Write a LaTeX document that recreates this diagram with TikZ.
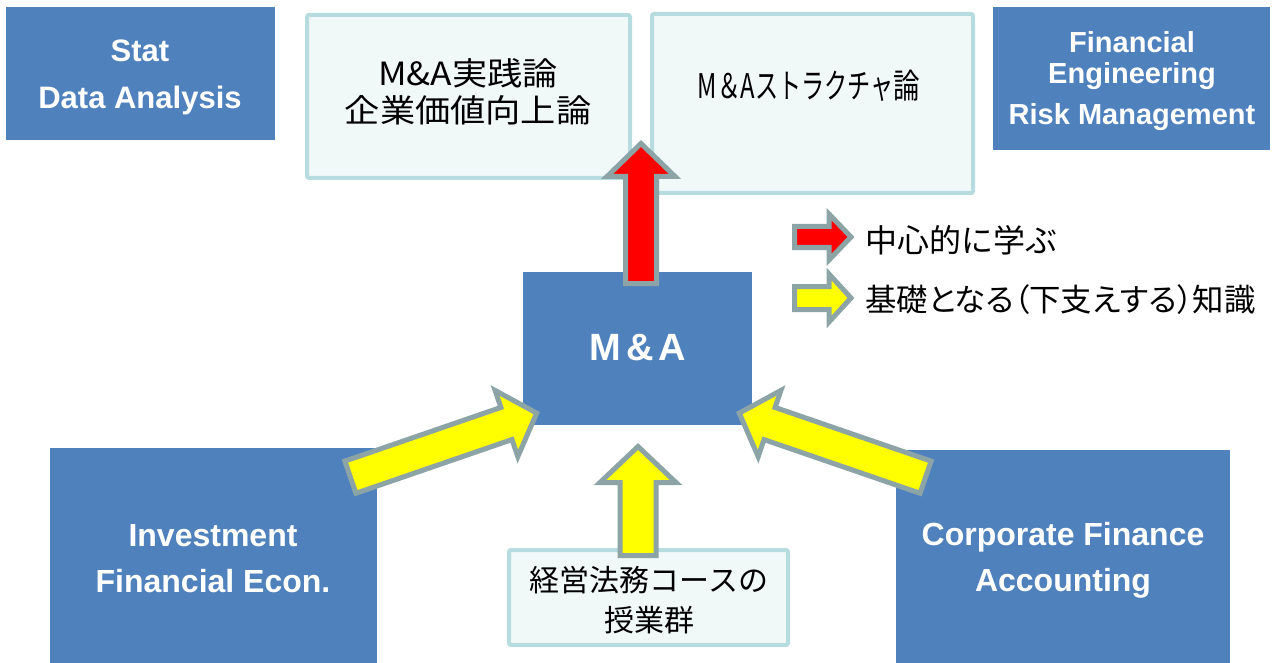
\documentclass[tikz,border=0pt]{standalone}
\usepackage{fontspec}
\setmainfont{Liberation Sans}
\newfontfamily\jp{Noto Sans CJK JP}
\newfontfamily\jpp[RawFeature=+palt]{Noto Sans CJK JP}
\usetikzlibrary{calc}
\definecolor{mablue}{HTML}{4F81BD}
\definecolor{lightfill}{HTML}{F1F8F8}
\definecolor{lightedge}{HTML}{B7DCE0}
\definecolor{arrowedge}{HTML}{8CA4A6}
\definecolor{myyellow}{HTML}{FFFF00}
\definecolor{myred}{HTML}{FF0000}
\tikzset{
  bluebox/.style={fill=mablue, draw=none, inner sep=0pt},
  lightbox/.style={fill=lightfill, draw=lightedge, line width=4pt, rounded corners=2pt, inner sep=0pt},
  wtext/.style={text=white, font=\bfseries\fontsize{31}{46}\selectfont, align=center, inner sep=0pt},
  jtext/.style={font=\jp\fontsize{32}{37}\selectfont, align=center, inner sep=0pt},
  legtext/.style={font=\jp\fontsize{32}{36}\selectfont, anchor=west, inner sep=0pt},
  blockarrow/.style={draw=arrowedge, line width=5pt, line join=miter, miter limit=10},
}
% #1 fill, #2 tail, #3 tip, #4 shaft half width, #5 head half width, #6 head length
\newcommand\blkarrow[6]{%
  \coordinate (#2-#3-h) at ($(#3)!#6!(#2)$);
  \draw[blockarrow, fill=#1]
    ($(#2)!#4!90:(#3)$) -- ($(#2-#3-h)!#4!90:(#3)$) -- ($(#2-#3-h)!#5!90:(#3)$)
    -- (#3) -- ($(#2-#3-h)!#5!-90:(#3)$) -- ($(#2-#3-h)!#4!-90:(#3)$)
    -- ($(#2)!#4!-90:(#3)$) -- cycle;
}
\begin{document}
\begin{tikzpicture}[x=1pt,y=-1pt]
\useasboundingbox (0,0) rectangle (1277,663);
\clip (0,0) rectangle (1277,663);
% boxes
\node[bluebox, minimum width=269pt, minimum height=133pt] (stat) at (140.5,73.5) {};
\node[bluebox, minimum width=277pt, minimum height=143pt] (fin) at (1131.5,78.5) {};
\node[lightbox, minimum width=323pt, minimum height=163pt] (prac) at (468.5,96.5) {};
\node[lightbox, minimum width=321pt, minimum height=179pt] (struct) at (812.5,103.5) {};
\node[bluebox, minimum width=229pt, minimum height=153pt] (ma) at (637.5,348.5) {};
\node[bluebox, minimum width=327pt, minimum height=240pt] (inv) at (213.5,568) {};
\node[bluebox, minimum width=334pt, minimum height=240pt] (corp) at (1063,570) {};
\node[lightbox, minimum width=279pt, minimum height=95pt] (law) at (648.5,597.5) {};
% texts
\node[wtext, font=\bfseries\fontsize{31}{47}\selectfont] (stat-t) at (140,77) {Stat\\Data Analysis};
\node[wtext, font=\bfseries\fontsize{29}{31}\selectfont] (fin-t) at (1132,81) {Financial\\Engineering\\[10pt]Risk Management};
\node[jtext] (prac-t) at (468,92) {\scalebox{1.1}[1]{M\&A実践論}\\\scalebox{1.1}[1]{企業価値向上論}};
\node[jtext, font=\jp\fontsize{34}{37}\selectfont] (struct-t) at (809,86) {\scalebox{0.7}[1]{M＆A}\scalebox{0.68}[1]{ストラクチャ}\scalebox{0.78}[1]{論}};
\node[wtext, font=\bfseries\fontsize{38}{40}\selectfont] (ma-t) at (638,348) {M\hspace{5pt}\&\hspace{5pt}A};
\node[wtext, font=\bfseries\fontsize{32}{46}\selectfont] (inv-t) at (213,559) {Investment\\Financial Econ.};
\node[wtext, font=\bfseries\fontsize{32}{46}\selectfont] (corp-t) at (1063,560) {Corporate Finance\\Accounting};
\node[jtext, font=\jp\fontsize{30}{40}\selectfont] (law-t) at (649,600) {経営法務コースの\\授業群};
% legend
\coordinate (lr-a) at (794.5,237);
\coordinate (lr-b) at (851,237);
\coordinate (ly-a) at (794.5,298);
\coordinate (ly-b) at (851,298);
\blkarrow{myred}{lr-a}{lr-b}{10.5pt}{23pt}{22pt}
\blkarrow{myyellow}{ly-a}{ly-b}{11.5pt}{24pt}{22pt}
\node[legtext] (leg1) at (865,240) {中心的に学ぶ};
\node[legtext, font=\jpp\fontsize{31.4}{36}\selectfont] (leg2) at (865,300) {基礎となる（下支えする）知識};
% main arrows
\coordinate (red-a) at (641,283.5);
\coordinate (red-b) at (641,143.5);
\blkarrow{myred}{red-a}{red-b}{15.5pt}{34pt}{33pt}
\coordinate (ym-a) at (638,555.5);
\coordinate (ym-b) at (638,446.5);
\blkarrow{myyellow}{ym-a}{ym-b}{18pt}{38pt}{36pt}
\coordinate (yl-a) at (350.4,477.2);
\coordinate (yl-b) at (536.7,413.1);
\blkarrow{myyellow}{yl-a}{yl-b}{17pt}{35pt}{32pt}
\coordinate (yr-a) at (925.6,477.2);
\coordinate (yr-b) at (739.3,413.1);
\blkarrow{myyellow}{yr-a}{yr-b}{17pt}{35pt}{32pt}
\end{tikzpicture}
\end{document}
